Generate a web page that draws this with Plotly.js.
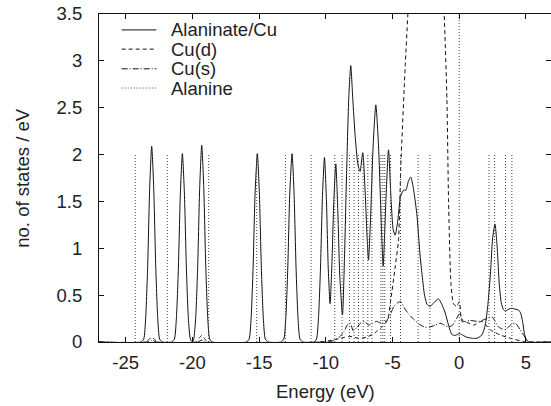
<!DOCTYPE html>
<html><head><meta charset="utf-8">
<script src="https://cdn.plot.ly/plotly-3.0.1.min.js"></script>
<style>html,body{margin:0;padding:0;background:#fff}#chart{width:551px;height:406px}</style>
</head><body><div id="chart"></div>
<script>
// ---- data ----
const seriesNames = ["Alaninate/Cu", "Cu(d)", "Cu(s)", "Alanine"];

const totalEnergy = [-27,-23.85,-23.65,-23.5,-23.35,-23.2,-23.05,-22.9,-22.75,-22.6,-22.45,-22.25,
  -21.55,-21.35,-21.2,-21.05,-20.9,-20.75,-20.6,-20.45,-20.3,-20.15,-20.0,-19.9,-19.75,-19.6,-19.45,-19.3,-19.15,-19.0,-18.85,-18.7,-18.5,
  -15.95,-15.75,-15.6,-15.45,-15.3,-15.13,-14.98,-14.83,-14.68,-14.53,-14.3,
  -13.35,-13.15,-13.0,-12.85,-12.7,-12.53,-12.38,-12.23,-12.08,-11.93,-11.7,
  -10.9,-10.7,-10.55,-10.4,-10.25,-10.1,-9.95,-9.82,-9.68,-9.55,-9.4,-9.25,-9.1,-8.95,-8.75,-8.6,-8.43,-8.28,-8.13,-7.98,-7.8,-7.6,-7.43,-7.23,-7.05,-6.9,-6.8,-6.65,-6.45,-6.25,-6.05,-5.85,-5.7,-5.5,-5.3,-5.1,-4.95,-4.8,-4.6,-4.4,-4.18,-4.0,-3.8,-3.63,-3.45,-3.18,-2.95,-2.8,-2.6,-2.4,-2.18,-1.9,-1.55,-1.3,-1.05,-0.8,-0.55,-0.3,0.02,0.3,0.57,1.0,1.32,1.7,1.95,2.15,2.35,2.5,2.68,2.85,3.0,3.15,3.3,3.45,3.7,3.95,4.2,4.45,4.6,4.75,4.9,5.05,5.2,6.88];
const totalDos = [0,0,0.03,0.26,0.82,1.65,2.09,1.65,0.82,0.26,0.03,0,
  0,0.03,0.25,0.79,1.59,2.01,1.59,0.79,0.25,0.03,0,0.03,0.26,0.82,1.66,2.10,1.66,0.82,0.26,0.03,0,
  0,0.03,0.25,0.79,1.59,2.01,1.59,0.79,0.25,0.03,0,
  0,0.03,0.25,0.79,1.59,2.01,1.59,0.79,0.25,0.03,0,
  0,0.03,0.25,0.78,1.56,1.97,1.5,0.8,0.41,0.8,1.5,1.90,1.4,0.7,0.29,0.9,1.87,2.6,2.95,2.6,2.2,1.9,1.82,2.02,1.6,1.1,0.875,1.3,2.1,2.53,2.1,1.3,0.81,1.5,2.05,1.5,1.2,1.14,1.3,1.55,1.62,1.62,1.72,1.76,1.65,1.37,0.95,0.74,0.5,0.4,0.38,0.42,0.46,0.4,0.31,0.18,0.08,0.07,0.09,0.07,0.05,0.04,0.04,0.075,0.18,0.4,0.75,1.1,1.26,1.0,0.62,0.42,0.35,0.33,0.35,0.36,0.35,0.34,0.31,0.22,0.08,0.02,0,0];

const cuDEnergy = [-27,-23.5,-23.25,-23.05,-22.85,-22.6,-19.75,-19.5,-19.3,-19.1,-18.85,-10.5,-9.5,-9.18,-8.6,-8.18,-7.55,-6.93,-6.3,-5.8,-5.38,-5.13,-4.8,-4.55,-4.38,-4.05,-3.85,-3.5,-2.5,-1.6,-1.13,-0.92,-0.8,-0.62,-0.43,-0.2,0.02,0.2,0.57,1.07,1.7,2.33,3.08,3.83,4.83,5.2,6.88];
const cuDDos = [0,0,0.03,0.05,0.03,0,0,0.04,0.07,0.04,0,0,0.02,0.03,0.05,0.06,0.04,0.05,0.10,0.16,0.23,0.45,0.80,1.09,1.87,2.94,3.5,4.6,6.0,4.8,3.5,2.58,1.52,0.63,0.41,0.38,0.43,0.22,0.21,0.18,0.22,0.13,0.075,0.04,0.005,0,0];

const cuSEnergy = [-27,-23.4,-23.05,-22.7,-19.6,-19.3,-19.0,-10,-9.5,-9.0,-8.6,-8.4,-8.15,-7.95,-7.7,-7.4,-7.1,-6.8,-6.5,-6.2,-5.8,-5.5,-5.2,-4.9,-4.6,-4.38,-4.1,-3.8,-3.4,-3.0,-2.6,-2.2,-1.8,-1.43,-1.1,-0.8,-0.5,-0.2,0.02,0.32,0.82,1.45,2.08,2.45,2.95,3.45,3.83,4.2,4.58,5.08,5.3,6.88];
const cuSDos = [0,0,0.02,0,0,0.02,0,0,0.01,0.05,0.12,0.18,0.2,0.12,0.15,0.2,0.22,0.18,0.2,0.22,0.2,0.22,0.28,0.38,0.42,0.43,0.36,0.3,0.24,0.19,0.16,0.16,0.18,0.2,0.18,0.16,0.18,0.25,0.3,0.22,0.23,0.22,0.25,0.27,0.16,0.13,0.18,0.2,0.13,0.02,0,0];

const alanineLevels = [-24.28,-21.88,-18.78,-15.18,-13.03,-11.1,-9.33,-8.78,-8.23,-7.88,-7.55,-7.2,-6.85,-6.55,-5.87,-5.72,-5.58,-5.15,-4.4,-3.08,-2.2,2.23,2.65,3.47,3.95];
const alanineHeight = 2.0;

const fermiEnergy = 0;
const yMax = 3.5;

const xTickVals = [-25,-20,-15,-10,-5,0,5];
const xTickText = ["-25","-20","-15","-10","-5","0","5"];
const yTickVals = [0,0.5,1,1.5,2,2.5,3,3.5];
const yTickText = ["0","0.5","1","1.5","2","2.5","3","3.5"];
const xTitle = "Energy (eV)";
const yTitle = "no. of states / eV";

// ---- build traces ----
const ink = "#111";
const font = {family: "Liberation Sans, Arial, Helvetica, sans-serif", size: 18.5, color: "#222"};
const styles = {
  "Alaninate/Cu": {color: ink, width: 1, dash: "solid"},
  "Cu(d)": {color: ink, width: 1, dash: "4px,3px"},
  "Cu(s)": {color: ink, width: 1, dash: "6px,2px,1px,2px"},
  "Alanine": {color: "#444", width: 1, dash: "1px,2px"}
};

const alX = [], alY = [];
alanineLevels.forEach(e => { alX.push(e, e, null); alY.push(0, alanineHeight, null); });

const traces = [
  {x: totalEnergy, y: totalDos, mode: "lines", line: Object.assign({shape: "spline", smoothing: 0.6}, styles["Alaninate/Cu"]), showlegend: false},
  {x: cuDEnergy, y: cuDDos, mode: "lines", line: Object.assign({shape: "spline", smoothing: 0.6}, styles["Cu(d)"]), showlegend: false},
  {x: cuSEnergy, y: cuSDos, mode: "lines", line: Object.assign({shape: "spline", smoothing: 0.6}, styles["Cu(s)"]), showlegend: false},
  {x: alX, y: alY, mode: "lines", line: styles["Alanine"], showlegend: false},
  {x: [fermiEnergy, fermiEnergy], y: [0, yMax], mode: "lines", line: styles["Alanine"], showlegend: false, yaxis: "y2"}
];

// manual legend (sample line + text) in data coordinates
const legSampleX = [-25.3, -22.7];
const legTextX = -21.75;
const legRowY = [3.33, 3.125, 2.915, 2.71];
const shapes = [], annotations = [];
seriesNames.forEach((n, i) => {
  shapes.push({type: "line", xref: "x", yref: "y", x0: legSampleX[0], x1: legSampleX[1], y0: legRowY[i], y1: legRowY[i], line: styles[n]});
  annotations.push({xref: "x", yref: "y", x: legTextX, y: legRowY[i], text: n, showarrow: false, xanchor: "left", yanchor: "middle", font: font});
});
// axis titles
annotations.push({xref: "paper", yref: "paper", x: 0.5, y: -0.152, text: xTitle, showarrow: false, xanchor: "center", yanchor: "middle", font: font});
annotations.push({xref: "paper", yref: "paper", x: -0.171, y: 0.5, text: yTitle, showarrow: false, textangle: -90, xanchor: "center", yanchor: "middle", font: font});

const layout = {
  width: 551, height: 406,
  margin: {l: 99, r: 0, t: 14, b: 64},
  paper_bgcolor: "#fff", plot_bgcolor: "#fff",
  font: font,
  showlegend: false,
  xaxis: {
    range: [-27, 6.88], tickvals: xTickVals, ticktext: xTickText,
    ticks: "inside", ticklen: 5, tickcolor: ink, tickwidth: 1,
    showline: true, linecolor: ink, linewidth: 1, mirror: "ticks",
    showgrid: false, zeroline: false, tickfont: font, ticklabelstandoff: 4
  },
  yaxis: {
    range: [0, yMax], tickvals: yTickVals, ticktext: yTickText,
    ticks: "inside", ticklen: 5, tickcolor: ink, tickwidth: 1,
    showline: true, linecolor: ink, linewidth: 1, mirror: "ticks",
    showgrid: false, zeroline: false, tickfont: font, ticklabelstandoff: 12
  },
  yaxis2: {
    range: [0, yMax], overlaying: "y", side: "right", showgrid: false, zeroline: false,
    showticklabels: false, ticks: "", showline: false
  },
  shapes: shapes,
  annotations: annotations
};

Plotly.newPlot("chart", traces, layout, {staticPlot: true, displayModeBar: false});
</script>
</body></html>
